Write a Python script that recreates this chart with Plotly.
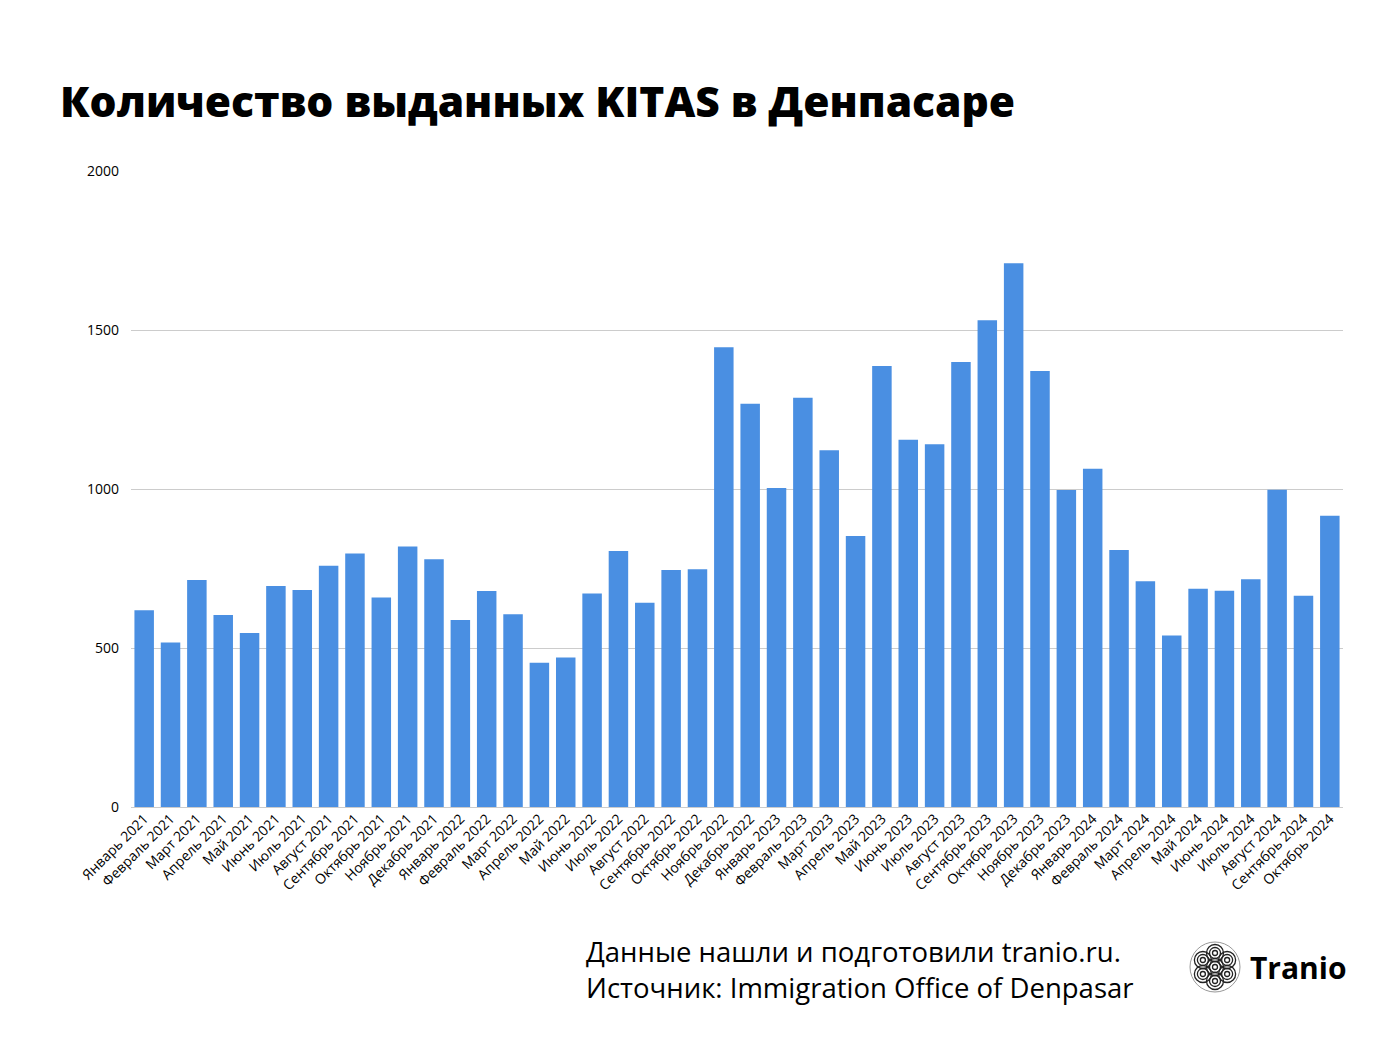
import plotly.graph_objects as go
import math

months = ["Январь", "Февраль", "Март", "Апрель", "Май", "Июнь", "Июль", "Август",
          "Сентябрь", "Октябрь", "Ноябрь", "Декабрь"]
years = [2021, 2022, 2023, 2024]
categories = [f"{m} {y}" for y in years for m in months][:46]

values = [619, 517, 714, 604, 547, 695, 682, 759, 797, 659, 819, 779,
          588, 679, 606, 454, 470, 671, 805, 642, 745, 748, 1446, 1268,
          1003, 1287, 1122, 852, 1387, 1155, 1141, 1399, 1531, 1710, 1371, 997,
          1064, 808, 710, 539, 686, 680, 716, 998, 664, 916]

yticks = [0, 500, 1000, 1500, 2000]

W, H = 1386, 1040
L, R, T, B = 131, 43, 171, 233
PW, PH = W - L - R, H - T - B
FONT = "Open Sans, Lato, sans-serif"

def px(x):
    return (x - L) / PW

def py(y):
    return (H - B - y) / PH

fig = go.Figure(go.Bar(
    x=categories, y=values,
    marker=dict(color="#4a8fe2", line=dict(width=0)),
    hoverinfo="x+y",
))

fig.update_layout(
    width=W, height=H,
    margin=dict(l=L, r=R, t=T, b=B),
    paper_bgcolor="white", plot_bgcolor="white",
    bargap=0.26,
    showlegend=False,
    font=dict(family=FONT, color="#000000"),
    xaxis=dict(
        tickangle=-45, tickfont=dict(size=14, color="#000000", family=FONT),
        showgrid=False, showline=False, ticks="", automargin=False,
    ),
    yaxis=dict(
        range=[0, 2000], tickvals=yticks, ticktext=[str(v) for v in yticks],
        tickfont=dict(size=14, color="#000000", family=FONT),
        showgrid=True, gridcolor="#cccccc", gridwidth=1,
        zeroline=True, zerolinecolor="#cccccc", zerolinewidth=1,
        showline=False, ticks="", ticklabelstandoff=11, automargin=False,
    ),
)

annotations = [
    dict(text="Количество выданных KITAS в Денпасаре",
         x=px(58), y=py(101), xref="paper", yref="paper",
         xanchor="left", yanchor="middle", showarrow=False,
         font=dict(size=42.5, color="#000000", family=FONT, weight=800)),
    dict(text="Данные нашли и подготовили tranio.ru.<br>Источник: Immigration Office of Denpasar",
         x=px(584), y=py(969), xref="paper", yref="paper",
         xanchor="left", yanchor="middle", align="left", showarrow=False,
         font=dict(size=27.5, color="#000000", family=FONT)),
    dict(text="Tranio",
         x=px(1248), y=py(968), xref="paper", yref="paper",
         xanchor="left", yanchor="middle", showarrow=False,
         font=dict(size=30, color="#000000", family=FONT, weight=700)),
]

# logo: circle filled with swirl-like concentric rings
shapes = []
cx, cy, rad = 1215, 967, 25
centers = [(0, 0)] + [(14 * math.cos(math.radians(a)), 14 * math.sin(math.radians(a)))
                      for a in range(30, 390, 60)]
for dx, dy in centers:
    for r in (2.5, 5.5, 8.5):
        x0, x1 = cx + dx - r, cx + dx + r
        y0, y1 = cy + dy - r, cy + dy + r
        shapes.append(dict(type="circle", xref="paper", yref="paper",
                           x0=px(x0), x1=px(x1), y0=py(y1), y1=py(y0),
                           line=dict(color="#222222", width=1.3)))
shapes.append(dict(type="circle", xref="paper", yref="paper",
                   x0=px(cx - rad), x1=px(cx + rad), y0=py(cy + rad), y1=py(cy - rad),
                   line=dict(color="#999999", width=1)))

fig.update_layout(annotations=annotations, shapes=shapes)
fig.write_html("out.html")
